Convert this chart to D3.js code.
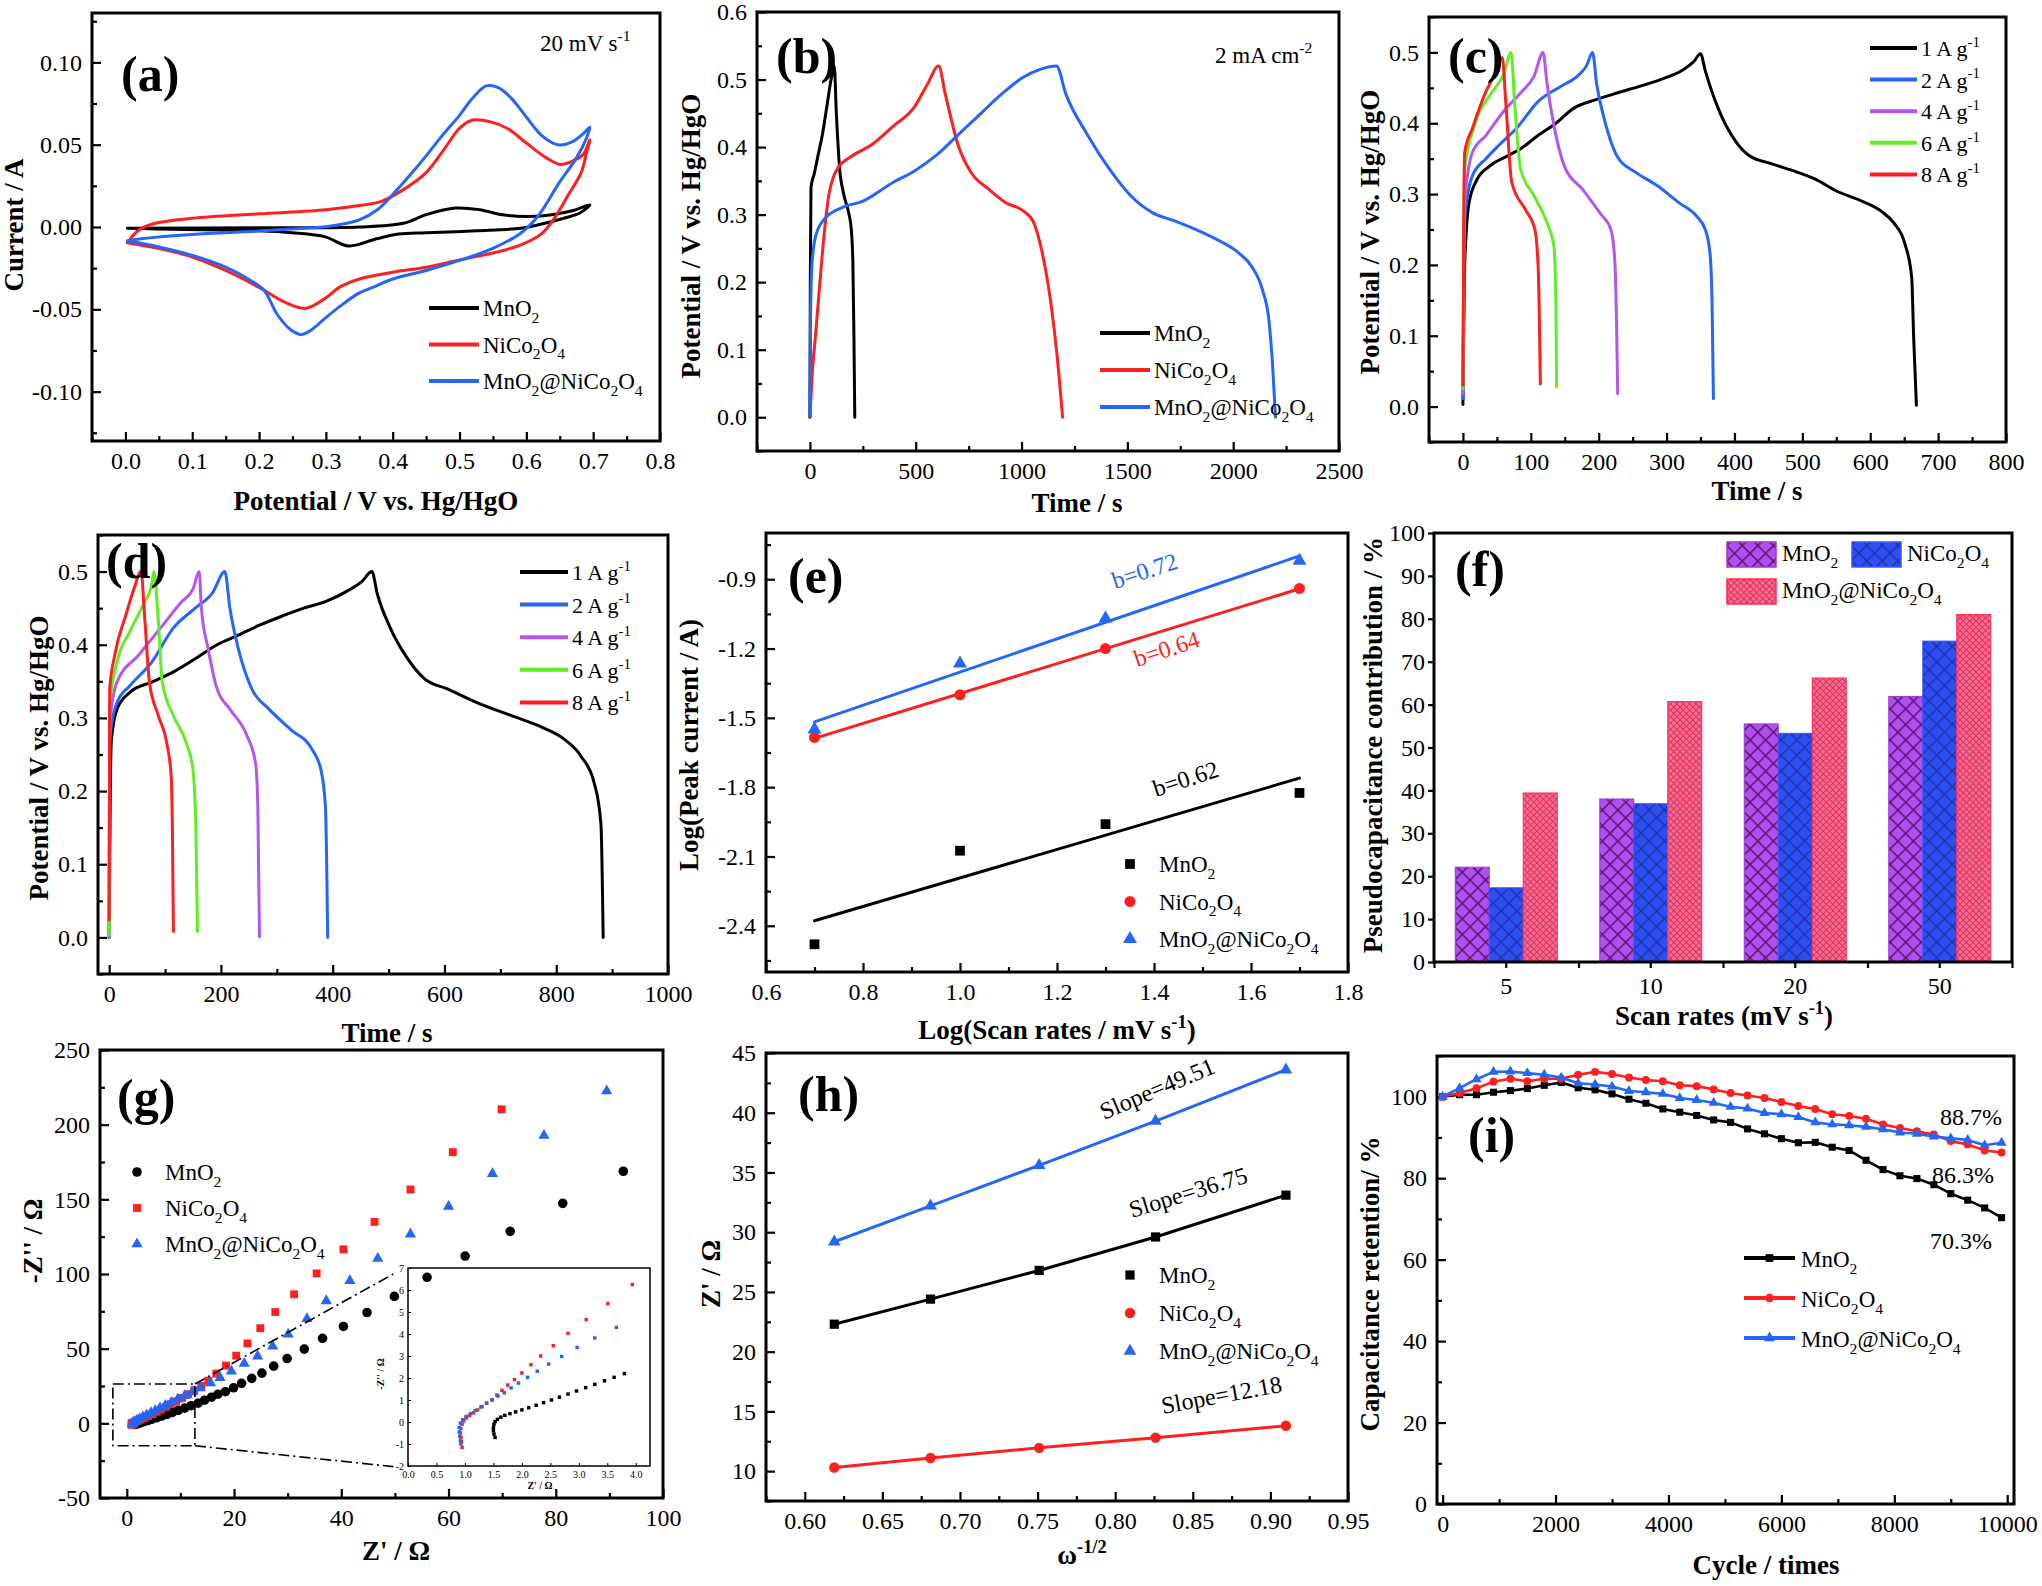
<!DOCTYPE html>
<html>
<head>
<meta charset="utf-8">
<script src="https://cdn.jsdelivr.net/npm/d3@7"></script>
<style>
  body { margin: 0; background: #fff; }
  svg { display: block; font-family: "Liberation Serif", "Times New Roman", serif; }
</style>
</head>
<body>
<svg id="fig" width="2042" height="1586"></svg>
<script>
// ---------- data ----------
const seriesNames = ["MnO_{2}", "NiCo_{2}O_{4}", "MnO_{2}@NiCo_{2}O_{4}"];
const rateNames = ["1 A g^{-1}", "2 A g^{-1}", "4 A g^{-1}", "6 A g^{-1}", "8 A g^{-1}"];

// (a) CV at 20 mV/s, [potential V, current A] in sweep order
const cvMnO2 = [[0.003,-0.0008],[0.2,-0.0004],[0.35,0.0],[0.416,0.0023],[0.45,0.0075],[0.494,0.0115],[0.53,0.0105],[0.565,0.0074],[0.604,0.0064],[0.643,0.0078],[0.67,0.0100],[0.695,0.0135],
  [0.68,0.0085],[0.656,0.0053],[0.62,0.0015],[0.591,-0.0008],[0.526,-0.0023],[0.45,-0.0035],[0.409,-0.0043],[0.377,-0.007],[0.334,-0.0115],[0.299,-0.006],[0.25,-0.0035],[0.201,-0.0023],[0.071,-0.0014],[0.003,-0.0008]];
const cvNiCo2O4 = [[0.003,-0.0096],[0.02,-0.0018],[0.045,0.0023],[0.1,0.0053],[0.2,0.008],[0.3,0.0105],[0.35,0.013],[0.383,0.0156],[0.416,0.0227],[0.45,0.033],[0.48,0.049],[0.5,0.06],[0.52,0.065],[0.545,0.064],[0.571,0.06],[0.6,0.051],[0.63,0.042],[0.65,0.038],[0.669,0.04],[0.685,0.044],[0.695,0.053],
  [0.69,0.045],[0.682,0.033],[0.662,0.019],[0.643,0.006],[0.623,-0.004],[0.591,-0.011],[0.558,-0.015],[0.5,-0.02],[0.45,-0.0244],[0.4,-0.0275],[0.35,-0.0316],[0.32,-0.0367],[0.3,-0.043],[0.27,-0.0494],[0.24,-0.046],[0.2,-0.0367],[0.15,-0.0264],[0.1,-0.0182],[0.05,-0.0131],[0.003,-0.0096]];
const cvComposite = [[0.003,-0.0084],[0.026,-0.0070],[0.1,-0.0045],[0.2,-0.0025],[0.266,-0.0008],[0.3,0.0002],[0.331,0.0023],[0.35,0.0043],[0.377,0.0105],[0.4,0.0197],[0.429,0.033],[0.45,0.0432],[0.474,0.0555],[0.5,0.0678],[0.519,0.078],[0.54,0.0857],[0.558,0.0846],[0.578,0.078],[0.6,0.0668],[0.623,0.0555],[0.649,0.0498],[0.669,0.0518],[0.685,0.0566],[0.695,0.0607],
  [0.69,0.054],[0.675,0.042],[0.649,0.0268],[0.617,0.0064],[0.591,-0.0039],[0.549,-0.0131],[0.5,-0.0203],[0.45,-0.0264],[0.4,-0.0316],[0.37,-0.0367],[0.35,-0.04],[0.325,-0.047],[0.3,-0.055],[0.279,-0.0623],[0.263,-0.0654],[0.247,-0.0623],[0.227,-0.053],[0.208,-0.0387],[0.188,-0.0326],[0.15,-0.0244],[0.1,-0.0172],[0.05,-0.0121],[0.003,-0.0084]];

// (b) GCD at 2 mA cm-2, [time s, potential V]
const gcdMnO2 = [[0,0],[2,0.2],[5,0.34],[20,0.36],[40,0.39],[60,0.42],[80,0.46],[100,0.5],[115,0.52],[125,0.45],[140,0.37],[160,0.33],[185,0.30],[195,0.28],[203,0.23],[208,0.12],[212,0]];
const gcdNiCo2O4 = [[0,0],[10,0.06],[26,0.12],[50,0.21],[67,0.27],[90,0.33],[110,0.355],[130,0.368],[190,0.385],[290,0.403],[390,0.43],[495,0.46],[555,0.493],[608,0.52],[640,0.478],[700,0.403],[760,0.363],[843,0.338],[924,0.318],[1006,0.306],[1055,0.29],[1098,0.243],[1139,0.168],[1169,0.088],[1194,0]];
const gcdComposite = [[0,0],[3,0.15],[10,0.228],[27,0.268],[67,0.293],[149,0.31],[251,0.32],[394,0.348],[496,0.365],[598,0.388],[700,0.418],[802,0.448],[904,0.478],[1006,0.503],[1088,0.515],[1165,0.52],[1210,0.478],[1312,0.418],[1414,0.368],[1516,0.328],[1618,0.303],[1720,0.291],[1822,0.278],[1924,0.263],[2027,0.243],[2088,0.223],[2139,0.188],[2169,0.143],[2186,0.078],[2200,0]];

// (c) GCD at several current densities
const c1 = [[0,0.003],[2,0.18],[4.5,0.24],[9,0.288],[21,0.321],[40,0.34],[66,0.354],[85,0.364],[111,0.383],[137,0.4],[163,0.421],[195,0.433],[228,0.443],[260,0.452],[292,0.462],[325,0.476],[340,0.487],[350,0.498],[357,0.474],[376,0.421],[402,0.374],[422,0.354],[454,0.343],[486,0.333],[519,0.321],[551,0.304],[583,0.292],[616,0.276],[635,0.259],[651,0.23],[661,0.183],[664,0.097],[668,0.002]];
const c2 = [[0,0.011],[1.5,0.2],[3,0.269],[14,0.326],[34,0.35],[53,0.369],[79,0.393],[111,0.431],[144,0.452],[169,0.467],[182,0.481],[191,0.5],[197,0.455],[208,0.407],[228,0.352],[254,0.331],[286,0.312],[318,0.288],[344,0.269],[357,0.25],[364,0.216],[367,0.145],[369,0.011]];
const c4 = [[0,0.018],[1.3,0.22],[2.6,0.288],[14,0.359],[34,0.383],[60,0.417],[85,0.443],[105,0.467],[118,0.5],[124,0.455],[134,0.397],[150,0.338],[176,0.307],[202,0.273],[218,0.25],[224,0.202],[228,0.018]];
const c6 = [[0,0.025],[1.3,0.25],[2.6,0.335],[17,0.397],[40,0.44],[60,0.469],[71,0.5],[76,0.431],[85,0.335],[105,0.297],[124,0.259],[134,0.226],[137,0.145],[138,0.028]];
const c8 = [[0,0.03],[1.3,0.28],[2.6,0.359],[14,0.393],[34,0.445],[47,0.469],[58,0.493],[63,0.431],[72,0.316],[92,0.278],[106,0.25],[111,0.192],[114,0.032]];

// (d) GCD at several current densities
const d1 = [[0,0.0],[2,0.2],[4,0.27],[14,0.312],[37,0.335],[76,0.349],[115,0.363],[154,0.381],[193,0.4],[231,0.413],[270,0.427],[309,0.439],[348,0.45],[387,0.459],[425,0.473],[453,0.487],[470,0.5],[480,0.469],[503,0.423],[534,0.381],[565,0.353],[604,0.34],[658,0.321],[720,0.303],[775,0.287],[814,0.271],[845,0.247],[868,0.211],[880,0.155],[884,0]];
const d2 = [[0,0.0],[0.6,0.2],[1,0.27],[14,0.321],[37,0.344],[76,0.376],[115,0.423],[154,0.45],[185,0.471],[207,0.5],[216,0.45],[231,0.395],[255,0.34],[286,0.312],[325,0.284],[363,0.257],[379,0.229],[387,0.178],[391,0]];
const d4 = [[0,0.0],[0.6,0.2],[1,0.294],[14,0.349],[53,0.386],[92,0.423],[130,0.459],[150,0.476],[161,0.5],[165,0.45],[177,0.395],[193,0.34],[216,0.312],[247,0.275],[262,0.238],[266,0.178],[269,0.001]];
const d6 = [[0,0.003],[0.6,0.22],[1,0.317],[14,0.376],[37,0.418],[61,0.455],[76,0.482],[80,0.5],[88,0.432],[95,0.349],[115,0.303],[138,0.266],[150,0.229],[155,0.155],[158,0.008]];
const d8 = [[0,0.024],[0.6,0.25],[1,0.34],[10,0.386],[30,0.441],[45,0.478],[57,0.5],[64,0.432],[72,0.349],[88,0.303],[103,0.266],[111,0.22],[113,0.155],[115,0.008]];

// (e) log peak current vs log scan rate
const eLogRate = [0.7, 1.0, 1.3, 1.7];
const eMnO2 = [-2.48, -2.075, -1.96, -1.825];
const eNiCo2O4 = [-1.585, -1.40, -1.20, -0.94];
const eComposite = [-1.55, -1.265, -1.07, -0.82];
const eSlopeText = ["b=0.62", "b=0.64", "b=0.72"];

// (f) pseudocapacitance contribution
const fRates = ["5", "10", "20", "50"];
const fMnO2 = [22.1, 38.0, 55.5, 61.9];
const fNiCo2O4 = [17.3, 36.9, 53.3, 74.8];
const fComposite = [39.4, 60.7, 66.2, 81.0];

// (g) Nyquist, [Z' ohm, -Z'' ohm]
const gMnO2 = [[1.5,-0.7],[1.7,-0.6],[2.1,-0.2],[2.6,0.4],[3.2,1.1],[3.9,1.9],[4.7,2.8],[5.6,3.8],[6.5,4.9],[7.5,6],[8.5,7.3],[9.6,8.7],[10.8,10.2],[12,11.8],[13.3,13.5],[14.5,15.5],[15.8,17.5],[17,19.5],[18.4,21.2],[19.9,23.8],[21.4,26.8],[23.3,30.1],[25.2,33.6],[27.4,38.3],[29.9,43.4],[33.1,49.7],[36.5,56.9],[40.4,64.9],[44.8,74.2],[49.9,85],[56,97.8],[63.1,112],[71.5,128.6],[81.3,147.3],[92.6,168.8]];
const gNiCo2O4 = [[0.9,-1],[0.9,0],[1.1,0.4],[1.5,0.9],[2,1.6],[2.6,2.5],[3.3,3.6],[4,4.8],[4.8,6.2],[5.6,7.7],[6.4,9.3],[7.3,11],[8.2,12.8],[9.2,14.8],[10.3,17],[11.4,19.5],[12.6,22],[13.9,25],[15.2,28.6],[16.7,33.3],[18.5,38.7],[20.4,45.3],[22.5,53.5],[24.9,63.7],[27.7,74.5],[31.2,86.4],[35.4,100.4],[40.4,116.5],[46.2,134.9],[52.9,156.6],[60.8,181.6],[69.9,210.3]];
const gComposite = [[1.1,-0.8],[1,0],[1.2,0.6],[1.5,1.2],[1.9,2],[2.4,3],[3,4.2],[3.7,5.5],[4.5,7],[5.3,8.5],[6.2,10.2],[7.2,12],[8.3,14],[9.5,16.2],[10.8,18.5],[12.2,21],[13.7,23.6],[15.6,27],[17.4,30.6],[19.5,34.8],[21.9,40],[24.4,45],[27.2,51.6],[30.1,59.7],[33.6,70],[37.2,82],[41.6,95.5],[46.8,110.4],[52.9,126.7],[60,145.2],[68.2,167.1],[77.8,192.8],[89.5,222.5]];
const gZoomBox = [-2.6, 12.7, -15, 26.3];
const gZoomTo = [[49.7, 100], [49.7, -29]];
// (g) inset, high-frequency region
const insetMnO2 = [[1.53,-0.7],[1.51,-0.55],[1.5,-0.4],[1.5,-0.25],[1.51,-0.1],[1.53,0.02],[1.57,0.12],[1.63,0.22],[1.7,0.3],[1.79,0.38],[1.89,0.46],[2.0,0.55],[2.12,0.65],[2.25,0.76],[2.38,0.88],[2.52,1.0],[2.66,1.13],[2.81,1.27],[2.96,1.41],[3.12,1.56],[3.28,1.71],[3.45,1.87],[3.62,2.03],[3.8,2.2]];
const insetNiCo2O4 = [[0.95,-1.15],[0.94,-0.9],[0.93,-0.7],[0.92,-0.5],[0.93,-0.3],[0.95,-0.1],[0.98,0.05],[1.02,0.18],[1.08,0.3],[1.15,0.42],[1.22,0.55],[1.3,0.7],[1.38,0.85],[1.47,1.01],[1.56,1.23],[1.65,1.44],[1.75,1.68],[1.87,1.93],[2.0,2.23],[2.16,2.6],[2.33,3.0],[2.55,3.47],[2.81,4.03],[3.13,4.65],[3.51,5.38],[3.94,6.25]];
const insetComposite = [[0.93,-1.0],[0.92,-0.85],[0.91,-0.65],[0.9,-0.45],[0.9,-0.25],[0.92,-0.05],[0.96,0.1],[1.02,0.25],[1.1,0.38],[1.18,0.52],[1.28,0.68],[1.38,0.85],[1.48,1.0],[1.58,1.18],[1.69,1.33],[1.81,1.55],[1.94,1.77],[2.1,2.03],[2.27,2.31],[2.47,2.63],[2.7,2.98],[2.97,3.39],[3.28,3.82],[3.66,4.3]];

// (h) Z' vs omega^-1/2
const hX = [0.619, 0.681, 0.751, 0.826, 0.910];
const hMnO2 = [22.3, 24.4, 26.8, 29.6, 33.1];
const hNiCo2O4 = [10.3, 11.1, 11.95, 12.8, 13.8];
const hComposite = [29.2, 32.2, 35.6, 39.3, 43.6];
const hSlopeText = ["Slope=36.75", "Slope=12.18", "Slope=49.51"];

// (i) cycling
const iCycles = [0,300,600,900,1200,1500,1800,2100,2400,2700,3000,3300,3600,3900,4200,4500,4800,5100,5400,5700,6000,6300,6600,6900,7200,7500,7800,8100,8400,8700,9000,9300,9600,9900];
const iMnO2 = [100,100.5,100.5,101.1,101.5,102,102.8,103.5,102.2,101.7,100.7,99.4,98.4,97,96.2,95.4,94.3,93.7,92.1,90.9,89.7,88.7,88.8,87.6,86.8,84.4,82.1,80.6,79.9,78.4,76.2,74.6,72.7,70.3];
const iNiCo2O4 = [100,100.9,102.1,103.7,104.4,103.8,104.4,104.4,105.4,106.1,105.6,104.7,104.1,103.8,102.8,102.6,101.8,100.9,100.3,99.7,98.7,97.7,97,95.7,95.3,94.6,93.2,92.3,91.5,90.7,89.1,88.3,86.8,86.3];
const iComposite = [100,102.1,104.3,106.1,106.2,105.8,105.4,104.7,103.3,103,102.5,101.4,101.1,100.7,99.7,99.2,98.5,97.5,97.1,96,95.7,95,93.7,93.2,93,92.6,92,91.2,90.9,90.2,89.8,89.4,88.1,88.7];
const iRetention = ["88.7%", "86.3%", "70.3%"];

// ---------- tick label arrays ----------
const aXTicks = [0,0.1,0.2,0.3,0.4,0.5,0.6,0.7,0.8], aYTicks = [-0.1,-0.05,0,0.05,0.1];
const bXTicks = [0,500,1000,1500,2000,2500], bYTicks = [0,0.1,0.2,0.3,0.4,0.5,0.6];
const cXTicks = [0,100,200,300,400,500,600,700,800], cYTicks = [0,0.1,0.2,0.3,0.4,0.5];
const dXTicks = [0,200,400,600,800,1000];
const eXTicks = [0.6,0.8,1.0,1.2,1.4,1.6,1.8], eYTicks = [-2.4,-2.1,-1.8,-1.5,-1.2,-0.9];
const fYTicks = [0,10,20,30,40,50,60,70,80,90,100];
const gXTicks = [0,20,40,60,80,100], gYTicks = [-50,0,50,100,150,200,250];
const giXTicks = [0,0.5,1,1.5,2,2.5,3,3.5,4], giYTicks = [-2,-1,0,1,2,3,4,5,6,7];
const hXTicks = [0.6,0.65,0.7,0.75,0.8,0.85,0.9,0.95], hYTicks = [10,15,20,25,30,35,40,45];
const iXTicks = [0,2000,4000,6000,8000,10000], iYTicks = [0,20,40,60,80,100];

// ---------- helpers ----------
const BLACK = "#000", RED = "#ff1f1f", BLUE = "#2466f5", PURPLE = "#b456ee", GREEN = "#62ee24";
const svg = d3.select("#fig");
svg.append("rect").attr("width", 2042).attr("height", 1586).attr("fill", "#fff");
const defs = svg.append("defs");

function rich(t, str, size) {
  const re = /(_|\^)\{([^}]*)\}/g;
  let last = 0, m, cur = 0;
  const seg = (s, kind) => {
    if (!s) return;
    const tgt = kind === "_" ? size * 0.3 : kind === "^" ? -size * 0.42 : 0;
    const ts = t.append("tspan").text(s);
    if (tgt !== cur) ts.attr("dy", tgt - cur);
    cur = tgt;
    if (kind) ts.attr("font-size", size * 0.68);
  };
  while ((m = re.exec(str))) { seg(str.slice(last, m.index)); seg(m[2], m[1]); last = re.lastIndex; }
  seg(str.slice(last));
  return t;
}
function txt(x, y, str, o = {}) {
  const size = o.size || 23;
  const t = svg.append("text").attr("x", x).attr("y", y).attr("font-size", size)
    .attr("fill", o.fill || "#000").attr("text-anchor", o.anchor || "start");
  if (o.bold) t.attr("font-weight", "bold");
  if (o.rot) t.attr("transform", `rotate(${o.rot},${x},${y})`);
  return rich(t, str, size);
}
function minors(major, dom) {
  const s = major[1] - major[0], out = [];
  for (let v = major[0] - s / 2; v <= dom[1] + 1e-9; v += s) if (v >= dom[0] - 1e-9) out.push(v);
  return out;
}
function axes(p, x, y, o) {
  const g = svg.append("g");
  const s = o.out ? 1 : -1, tl = o.tl || 9, fs = o.fs || 24;
  const bx = g.append("g").attr("transform", `translate(0,${p.b})`);
  bx.call(d3.axisBottom(x).tickValues(o.xt).tickFormat(o.xf).tickSize(s * tl).tickPadding(o.px || 11));
  if (o.xm) bx.append("g").call(d3.axisBottom(o.xms || x).tickValues(o.xm).tickFormat("").tickSize(s * (o.mtl || tl * 0.55)));
  const ly = g.append("g").attr("transform", `translate(${p.l},0)`);
  ly.call(d3.axisLeft(y).tickValues(o.yt).tickFormat(o.yf).tickSize(s * tl).tickPadding(o.py || 10));
  if (o.ym) ly.append("g").call(d3.axisLeft(y).tickValues(o.ym).tickFormat("").tickSize(s * tl * 0.55));
  g.selectAll(".domain").remove();
  g.selectAll(".tick line").attr("stroke-width", o.tw || 2.2);
  g.selectAll("g").attr("font-family", null).attr("font-size", fs);
  g.append("rect").attr("x", p.l).attr("y", p.t).attr("width", p.r - p.l).attr("height", p.b - p.t)
    .attr("fill", "none").attr("stroke", "#000").attr("stroke-width", o.sw || 3);
}
function curve(pts, x, y, color, w, c) {
  svg.append("path").datum(pts).attr("fill", "none").attr("stroke", color).attr("stroke-width", w)
    .attr("stroke-linejoin", "round").attr("stroke-linecap", "round")
    .attr("d", d3.line().x(d => x(d[0])).y(d => y(d[1])).curve(c || d3.curveLinear));
}
const SYM = { sq: d3.symbolSquare, ci: d3.symbolCircle, tr: d3.symbolTriangle };
function marks(pts, x, y, type, size, color) {
  svg.append("g").selectAll("path").data(pts).join("path")
    .attr("transform", d => `translate(${x(d[0])},${y(d[1])})`)
    .attr("d", d3.symbol(SYM[type], size)).attr("fill", color);
}
function lineLegend(x0, x1, y0, dy, names, colors, fs) {
  names.forEach((n, i) => {
    const yy = y0 + i * dy;
    svg.append("line").attr("x1", x0).attr("x2", x1).attr("y1", yy).attr("y2", yy)
      .attr("stroke", colors[i]).attr("stroke-width", 4);
    txt(x1 + 4, yy + 8, n, { size: fs || 23 });
  });
}
function symLegend(xs, xt, y0, dy, names, types, sizes, colors) {
  names.forEach((n, i) => {
    const yy = y0 + i * dy;
    svg.append("path").attr("transform", `translate(${xs},${yy})`)
      .attr("d", d3.symbol(SYM[types[i]], sizes[i])).attr("fill", colors[i]);
    txt(xt, yy + 8, n, { size: 23 });
  });
}
const zip = (xs, ys) => xs.map((v, i) => [v, ys[i]]);
const f1 = d => d.toFixed(1), f2 = d => d.toFixed(2), f0 = d => String(d);
const COL3 = [BLACK, RED, BLUE];

// panel frames (layout)
const P = {
  a: { l: 92, r: 660, t: 13, b: 441 },
  b: { l: 757, r: 1339, t: 12, b: 451 },
  c: { l: 1429, r: 2006, t: 17, b: 442 },
  d: { l: 98, r: 668, t: 535, b: 974 },
  e: { l: 766, r: 1348, t: 533, b: 972 },
  f: { l: 1434, r: 2012, t: 533, b: 962 },
  g: { l: 100, r: 663, t: 1050, b: 1498 },
  h: { l: 766, r: 1348, t: 1053, b: 1501 },
  i: { l: 1437, r: 2014, t: 1056, b: 1504 }
};
const lin = (p, xd, yd) => [d3.scaleLinear().domain(xd).range([p.l, p.r]), d3.scaleLinear().domain(yd).range([p.b, p.t])];

// ---------- (a) ----------
{
  const [x, y] = lin(P.a, [-0.05, 0.8], [-0.13, 0.13]);
  axes(P.a, x, y, { xt: aXTicks, xf: f1, xm: minors(aXTicks, x.domain()), yt: aYTicks, yf: f2, ym: minors(aYTicks, y.domain()) });
  const cr = d3.curveCatmullRom.alpha(0.5);
  curve(cvMnO2, x, y, BLACK, 3, cr);
  curve(cvNiCo2O4, x, y, RED, 3, cr);
  curve(cvComposite, x, y, BLUE, 3, cr);
  lineLegend(429, 479, 308, 36.5, seriesNames, COL3);
  txt(540, 51, "20 mV s^{-1}", { size: 23 });
  txt(121, 91, "(a)", { size: 50, bold: true });
  txt(376, 510, "Potential / V vs. Hg/HgO", { size: 27, bold: true, anchor: "middle" });
  txt(23, 225, "Current / A", { size: 27, bold: true, anchor: "middle", rot: -90 });
}
// ---------- (b) ----------
{
  const [x, y] = lin(P.b, [-250, 2500], [-0.05, 0.6]);
  axes(P.b, x, y, { xt: bXTicks, xf: f0, xm: minors(bXTicks, x.domain()), yt: bYTicks, yf: f1, ym: minors(bYTicks, y.domain()) });
  const mc = d3.curveMonotoneX;
  curve(gcdMnO2, x, y, BLACK, 3, mc);
  curve(gcdNiCo2O4, x, y, RED, 3, mc);
  curve(gcdComposite, x, y, BLUE, 3, mc);
  lineLegend(1100, 1150, 333, 37, seriesNames, COL3);
  txt(1215, 63, "2 mA cm^{-2}", { size: 23 });
  txt(776, 73, "(b)", { size: 50, bold: true });
  txt(1077, 512, "Time / s", { size: 27, bold: true, anchor: "middle" });
  txt(700, 236, "Potential / V vs. Hg/HgO", { size: 27, bold: true, anchor: "middle", rot: -90 });
}
// ---------- (c) ----------
{
  const [x, y] = lin(P.c, [-50, 800], [-0.05, 0.55]);
  axes(P.c, x, y, { xt: cXTicks, xf: f0, xm: minors(cXTicks, x.domain()), yt: cYTicks, yf: f1, ym: minors(cYTicks, y.domain()) });
  const mc = d3.curveMonotoneX, cols = [BLACK, BLUE, PURPLE, GREEN, RED];
  [c1, c2, c4, c6, c8].forEach((s, i) => curve(s, x, y, cols[i], 3, mc));
  lineLegend(1870, 1917, 48, 31.6, rateNames, cols, 22);
  txt(1448, 73, "(c)", { size: 50, bold: true });
  txt(1757, 500, "Time / s", { size: 27, bold: true, anchor: "middle" });
  txt(1379, 232, "Potential / V vs. Hg/HgO", { size: 27, bold: true, anchor: "middle", rot: -90 });
}
// ---------- (d) ----------
{
  const [x, y] = lin(P.d, [-20, 1000], [-0.05, 0.55]);
  axes(P.d, x, y, { xt: dXTicks, xf: f0, xm: minors(dXTicks, x.domain()), yt: cYTicks, yf: f1, ym: minors(cYTicks, y.domain()) });
  const mc = d3.curveMonotoneX, cols = [BLACK, BLUE, PURPLE, GREEN, RED];
  [d1, d2, d4, d6, d8].forEach((s, i) => curve(s, x, y, cols[i], 3, mc));
  lineLegend(520, 568, 572, 32.6, rateNames, cols, 22);
  txt(106, 578, "(d)", { size: 50, bold: true });
  txt(387, 1042, "Time / s", { size: 27, bold: true, anchor: "middle" });
  txt(48, 758, "Potential / V vs. Hg/HgO", { size: 27, bold: true, anchor: "middle", rot: -90 });
}
// ---------- (e) ----------
{
  const [x, y] = lin(P.e, [0.6, 1.8], [-2.6, -0.7]);
  axes(P.e, x, y, { xt: eXTicks, xf: f1, xm: minors(eXTicks, x.domain()), yt: eYTicks, yf: f1, ym: minors(eYTicks, y.domain()) });
  const sets = [eMnO2, eNiCo2O4, eComposite];
  sets.forEach((ys, i) => {
    const fit = d3.mean(eLogRate), fy = d3.mean(ys);
    const k = d3.sum(eLogRate, (v, j) => (v - fit) * (ys[j] - fy)) / d3.sum(eLogRate, v => (v - fit) ** 2);
    const ends = [eLogRate[0], eLogRate[eLogRate.length - 1]];
    curve(ends.map(v => [v, fy + k * (v - fit)]), x, y, COL3[i], 3);
  });
  marks(zip(eLogRate, eMnO2), x, y, "sq", 95, BLACK);
  marks(zip(eLogRate, eNiCo2O4), x, y, "ci", 95, RED);
  marks(zip(eLogRate, eComposite), x, y, "tr", 85, BLUE);
  txt(1156, 797, eSlopeText[0], { size: 24, fill: BLACK, rot: -18 });
  txt(1137, 667, eSlopeText[1], { size: 24, fill: RED, rot: -18 });
  txt(1115, 589, eSlopeText[2], { size: 24, fill: BLUE, rot: -18 });
  symLegend(1130, 1159, 864, 37.5, seriesNames, ["sq", "ci", "tr"], [95, 95, 85], COL3);
  txt(788, 593, "(e)", { size: 50, bold: true });
  txt(1057, 1039, "Log(Scan rates / mV s^{-1})", { size: 27, bold: true, anchor: "middle" });
  txt(698, 745, "Log(Peak current / A)", { size: 27, bold: true, anchor: "middle", rot: -90 });
}
// ---------- (f) ----------
{
  function hatch(id, bg, fg, size, w) {
    const p = defs.append("pattern").attr("id", id).attr("patternUnits", "userSpaceOnUse")
      .attr("width", size).attr("height", size).attr("patternTransform", "rotate(45)");
    p.append("rect").attr("width", size).attr("height", size).attr("fill", bg);
    p.append("path").attr("d", `M0,0H${size}M0,0V${size}`).attr("stroke", fg).attr("stroke-width", w);
  }
  hatch("hMn", "#b04ef0", "#5a1670", 11, 3);
  hatch("hNi", "#2d4ff2", "#1f2fa0", 11, 2.4);
  hatch("hCo", "#f46c90", "#e02a55", 4.5, 1.6);
  const fills = ["url(#hMn)", "url(#hNi)", "url(#hCo)"], edges = ["#9a3ad0", "#3a5af5", "#ff2a55"];
  const x = d3.scaleBand().domain(fRates).range([P.f.l, P.f.r]);
  const x1 = d3.scaleBand().domain([0, 1, 2]).range([0, x.bandwidth()]).paddingOuter(0.625);
  const y = d3.scaleLinear().domain([0, 100]).range([P.f.b, P.f.t]);
  const sets = [fMnO2, fNiCo2O4, fComposite];
  const rows = fRates.flatMap((r, i) => sets.map((s, k) => ({ r, k, v: s[i] })));
  svg.append("g").selectAll("rect").data(rows).join("rect")
    .attr("x", d => x(d.r) + x1(d.k)).attr("width", x1.bandwidth())
    .attr("y", d => y(d.v)).attr("height", d => y(0) - y(d.v))
    .attr("fill", d => fills[d.k]).attr("stroke", d => edges[d.k]).attr("stroke-width", 1);
  const xb = d3.scaleLinear().domain([0, fRates.length]).range([P.f.l, P.f.r]);
  axes(P.f, x, y, { out: true, tl: 6, px: 9, py: 3, xt: fRates, xf: f0, xm: d3.range(fRates.length + 1), xms: xb, mtl: 6, yt: fYTicks, yf: f0 });
  const boxes = [[1727, 542], [1852, 542], [1727, 579]], tx = [1782, 1907, 1782];
  seriesNames.forEach((n, k) => {
    svg.append("rect").attr("x", boxes[k][0]).attr("y", boxes[k][1]).attr("width", 49).attr("height", 25)
      .attr("fill", fills[k]).attr("stroke", edges[k]).attr("stroke-width", 1.5);
    txt(tx[k], boxes[k][1] + 19, n, { size: 23 });
  });
  txt(1455, 586, "(f)", { size: 50, bold: true });
  txt(1724, 1025, "Scan rates (mV s^{-1})", { size: 27, bold: true, anchor: "middle" });
  txt(1382, 745, "Pseudocapacitance contribution / %", { size: 27, bold: true, anchor: "middle", rot: -90 });
}
// ---------- (g) ----------
{
  const [x, y] = lin(P.g, [-5, 100], [-50, 250]);
  axes(P.g, x, y, { xt: gXTicks, xf: f0, xm: minors(gXTicks, x.domain()), yt: gYTicks, yf: f0, ym: minors(gYTicks, y.domain()) });
  // inset
  const gi = { l: 408, r: 650, t: 1268, b: 1466 };
  const [ix, iy] = lin(gi, [0, 4.25], [-2, 7]);
  svg.append("rect").attr("x", gi.l).attr("y", gi.t).attr("width", gi.r - gi.l).attr("height", gi.b - gi.t).attr("fill", "#fff");
  axes(gi, ix, iy, { xt: giXTicks, xf: f1, yt: giYTicks, yf: f0, tl: 3, fs: 10, px: 5, py: 4, sw: 1.5, tw: 1 });
  marks(insetMnO2, ix, iy, "sq", 12, BLACK);
  marks(insetNiCo2O4, ix, iy, "sq", 12, RED);
  marks(insetComposite, ix, iy, "sq", 12, BLUE);
  txt(540, 1489, "Z' / Ω", { size: 10, bold: true, anchor: "middle" });
  txt(384, 1374, "-Z'' / Ω", { size: 10, bold: true, anchor: "middle", rot: -90 });
  // main markers
  marks(gMnO2, x, y, "ci", 72, BLACK);
  marks(gNiCo2O4, x, y, "sq", 62, RED);
  marks(gComposite, x, y, "tr", 55, BLUE);
  // zoom box and connectors
  const dash = "11,4,2,4";
  svg.append("rect").attr("x", x(gZoomBox[0])).attr("y", y(gZoomBox[3]))
    .attr("width", x(gZoomBox[1]) - x(gZoomBox[0])).attr("height", y(gZoomBox[2]) - y(gZoomBox[3]))
    .attr("fill", "none").attr("stroke", "#000").attr("stroke-width", 1.6).attr("stroke-dasharray", dash);
  [[gZoomBox[1], gZoomBox[3]], [gZoomBox[1], gZoomBox[2]]].forEach((c, k) =>
    svg.append("line").attr("x1", x(c[0])).attr("y1", y(c[1])).attr("x2", x(gZoomTo[k][0])).attr("y2", y(gZoomTo[k][1]))
      .attr("stroke", "#000").attr("stroke-width", 1.6).attr("stroke-dasharray", dash));
  symLegend(137, 165, 1172, 36, seriesNames, ["ci", "sq", "tr"], [72, 62, 55], COL3);
  txt(117, 1114, "(g)", { size: 50, bold: true });
  txt(396, 1560, "Z' / Ω", { size: 27, bold: true, anchor: "middle" });
  txt(42, 1241, "-Z'' / Ω", { size: 27, bold: true, anchor: "middle", rot: -90 });
}
// ---------- (h) ----------
{
  const [x, y] = lin(P.h, [0.575, 0.95], [7.5, 45]);
  axes(P.h, x, y, { xt: hXTicks, xf: f2, xm: minors(hXTicks, x.domain()), yt: hYTicks, yf: f0, ym: minors(hYTicks, y.domain()) });
  const sets = [hMnO2, hNiCo2O4, hComposite];
  sets.forEach((s, i) => curve(zip(hX, s), x, y, COL3[i], 3));
  marks(zip(hX, hMnO2), x, y, "sq", 85, BLACK);
  marks(zip(hX, hNiCo2O4), x, y, "ci", 85, RED);
  marks(zip(hX, hComposite), x, y, "tr", 70, BLUE);
  txt(1132, 1218, hSlopeText[0], { size: 24, rot: -17 });
  txt(1163, 1414, hSlopeText[1], { size: 24, rot: -10.5 });
  txt(1104, 1120, hSlopeText[2], { size: 24, rot: -23 });
  symLegend(1130, 1159, 1275, 38, seriesNames, ["sq", "ci", "tr"], [85, 85, 70], COL3);
  txt(798, 1111, "(h)", { size: 50, bold: true });
  txt(1082, 1564, "ω^{-1/2}", { size: 27, bold: true, anchor: "middle" });
  txt(720, 1274, "Z' / Ω", { size: 27, bold: true, anchor: "middle", rot: -90 });
}
// ---------- (i) ----------
{
  const [x, y] = lin(P.i, [-100, 10120], [0, 110]);
  axes(P.i, x, y, { xt: iXTicks, xf: f0, xm: minors(iXTicks, x.domain()), yt: iYTicks, yf: f0, ym: minors(iYTicks, y.domain()) });
  const sets = [iMnO2, iNiCo2O4, iComposite], types = ["sq", "ci", "tr"], sz = [50, 50, 45];
  sets.forEach((s, i) => { curve(zip(iCycles, s), x, y, COL3[i], 2.6); marks(zip(iCycles, s), x, y, types[i], sz[i], COL3[i]); });
  txt(1940, 1125, iRetention[0], { size: 24 });
  txt(1932, 1183, iRetention[1], { size: 24 });
  txt(1930, 1249, iRetention[2], { size: 24 });
  seriesNames.forEach((n, i) => {
    const yy = 1258 + i * 40;
    svg.append("line").attr("x1", 1744).attr("x2", 1795).attr("y1", yy).attr("y2", yy).attr("stroke", COL3[i]).attr("stroke-width", 4);
    svg.append("path").attr("transform", `translate(1769.5,${yy})`).attr("d", d3.symbol(SYM[types[i]], sz[i] * 1.2)).attr("fill", COL3[i]);
    txt(1801, yy + 9, n, { size: 23 });
  });
  txt(1468, 1152, "(i)", { size: 50, bold: true });
  txt(1766, 1574, "Cycle / times", { size: 27, bold: true, anchor: "middle" });
  txt(1379, 1284, "Capacitance retention/ %", { size: 27, bold: true, anchor: "middle", rot: -90 });
}
</script>
</body>
</html>
